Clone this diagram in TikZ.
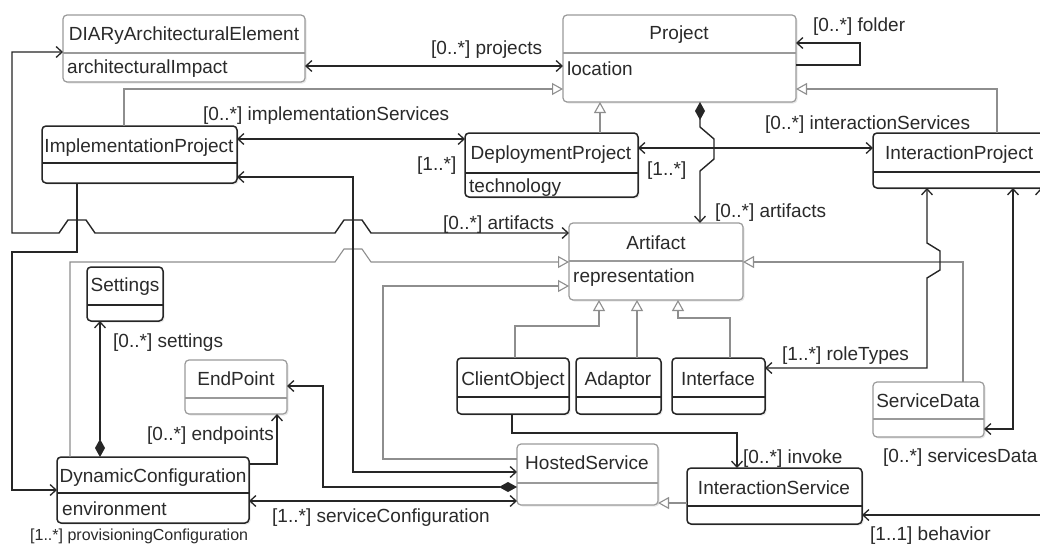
\documentclass[tikz,border=0pt]{standalone}
\usepackage{fontspec}
\setmainfont{Liberation Sans}
\usetikzlibrary{arrows.meta,shadows}

\definecolor{ink}{HTML}{262626}
\definecolor{genline}{HTML}{8E8E8E}
\definecolor{softframe}{HTML}{9A9A9A}
\definecolor{txt}{HTML}{2A2A2A}

\tikzset{
  opentip/.tip={Straight Barb[length=6pt,width=11pt,line width=1.3pt]},
  gentip/.tip={Triangle[open,length=11pt,width=12pt,fill=white,line width=1.1pt]},
  comptip/.tip={Diamond[length=18pt,width=10pt]},
  umlbox/.style={draw=ink, line width=1.5pt, fill=white, rounded corners=4pt,
    inner sep=0pt, outer sep=0pt,
    drop shadow={opacity=0.18, shadow xshift=1.5pt, shadow yshift=-1.5pt}},
  softbox/.style={umlbox, draw=softframe, line width=1.2pt},
  sepline/.style={draw=ink, line width=1.2pt},
  softsep/.style={draw=softframe, line width=1.1pt},
  title/.style={text=txt, inner sep=0pt, anchor=base, font=\fontsize{19}{22}\selectfont},
  attr/.style={text=txt, inner sep=0pt, anchor=base west, font=\fontsize{19}{22}\selectfont},
  lbl/.style={text=txt, inner sep=0pt, anchor=base west, font=\fontsize{19}{22}\selectfont},
  smalllbl/.style={lbl, font=\fontsize{16}{18}\selectfont},
  assoc/.style={draw=ink, line width=1.4pt},
  twoway/.style={assoc, opentip-opentip},
  oneway/.style={assoc, -opentip},
  composite/.style={assoc, comptip-opentip},
  gen/.style={draw=genline, line width=1.1pt, -gentip},
}

% class box: box style, divider style, name, x1, y1, x2, y2, divider y
\newcommand\umlclass[8]{%
  \node[#1, anchor=north west, minimum width={(#6-#4)*1pt},
        minimum height={(#7-#5)*1pt}] (#3) at (#4,#5) {};
  \draw[#2] (#3.west |- 0,#8) -- (#3.east |- 0,#8);
}

\begin{document}
\begin{tikzpicture}[x=1pt,y=-1pt]
\useasboundingbox (0,0) rectangle (1040,543);
\clip (0,0) rectangle (1040,543);
\fill[white] (0,0) rectangle (1040,543);

% ---------- classes ----------
\umlclass{softbox}{softsep}{diary}{63}{15}{305}{82}{53}
\umlclass{softbox}{softsep}{project}{563}{15}{796}{102}{53}
\umlclass{umlbox}{sepline}{implproj}{42}{126}{237}{183}{163}
\umlclass{umlbox}{sepline}{deploy}{465}{133}{638}{197}{173}
\umlclass{umlbox}{sepline}{interproj}{873}{133}{1050}{188}{172}
\umlclass{softbox}{softsep}{artifact}{569}{223}{743}{300}{261}
\umlclass{umlbox}{sepline}{settings}{87}{267}{163}{321}{305}
\umlclass{softbox}{softsep}{endpoint}{185}{360}{287}{414}{398}
\umlclass{umlbox}{sepline}{client}{457}{358}{569}{414}{397}
\umlclass{umlbox}{sepline}{adaptor}{576}{358}{661}{414}{397}
\umlclass{umlbox}{sepline}{iface}{672}{358}{765}{414}{397}
\umlclass{softbox}{softsep}{servicedata}{873}{382}{984}{437}{419}
\umlclass{softbox}{softsep}{hosted}{517}{444}{658}{505}{483}
\umlclass{umlbox}{sepline}{dynconf}{57}{457}{249}{523}{493}
\umlclass{umlbox}{sepline}{interserv}{687}{468}{862}{524}{506}

% class names and attributes
\node[title] (diaryT) at (184,41) {DIARyArchitecturalElement};
\node[attr] (diaryA) at (67,74) {architecturalImpact};
\node[title] (projectT) at (679,40) {Project};
\node[attr] (projectA) at (567,75) {location};
\node[title] (implprojT) at (139,152) {ImplementationProject};
\node[title] (deployT) at (551,159) {DeploymentProject};
\node[attr] (deployA) at (469,192) {technology};
\node[attr] (interprojT) at (885,159) {InteractionProject};
\node[title] (artifactT) at (656,249) {Artifact};
\node[attr] (artifactA) at (573,282) {representation};
\node[title] (settingsT) at (125,291) {Settings};
\node[title] (endpointT) at (236,385) {EndPoint};
\node[title] (clientT) at (513,385) {ClientObject};
\node[title] (adaptorT) at (618,385) {Adaptor};
\node[title] (ifaceT) at (718,385) {Interface};
\node[title] (servicedataT) at (928,407) {ServiceData};
\node[title] (hostedT) at (587,469) {HostedService};
\node[title] (dynconfT) at (153,482) {DynamicConfiguration};
\node[attr] (dynconfA) at (62,515) {environment};
\node[title] (interservT) at (774,494) {InteractionService};

% ---------- generalizations ----------
\draw[gen] (implproj.north -| 124,0) -- (124,89) -- (project.west |- 0,89);
\draw[gen] (deploy.north -| 600,0) -- (project.south -| 600,0);
\draw[gen] (interproj.north -| 997,0) -- (997,89) -- (project.east |- 0,89);
\draw[gen] (dynconf.north -| 70,0) -- (70,262) -- (335,262) -- (344,249)
  -- (362,249) -- (371,262) -- (artifact.west |- 0,262);
\draw[gen] (hosted.west |- 0,459) -- (383,459) -- (383,286) -- (artifact.west |- 0,286);
\draw[gen] (client.north -| 515,0) -- (515,326) -- (599,326) -- (artifact.south -| 599,0);
\draw[gen] (adaptor.north -| 637,0) -- (artifact.south -| 637,0);
\draw[gen] (iface.north -| 730,0) -- (730,318) -- (678,318) -- (artifact.south -| 678,0);
\draw[gen] (servicedata.north -| 963,0) -- (963,262) -- (artifact.east |- 0,262);
\draw[gen] (interserv.west |- 0,503) -- (hosted.east |- 0,503);

% ---------- associations ----------
\draw[twoway] (diary.east |- 0,66) -- (project.west |- 0,66);
\draw[oneway] (project.east |- 0,65) -- (860,65) -- (860,43) -- (project.east |- 0,43);
\draw[twoway] (diary.west |- 0,52) -- (12,52) -- (12,233)
  -- (59,233) -- (68,220) -- (86,220) -- (95,233)
  -- (335,233) -- (344,220) -- (362,220) -- (371,233)
  -- (artifact.west |- 0,233);
\draw[twoway] (implproj.east |- 0,139) -- (deploy.west |- 0,139);
\draw[twoway] (implproj.east |- 0,177) -- (353,177) -- (353,472) -- (hosted.west |- 0,472);
\draw[oneway] (implproj.south -| 77,0) -- (77,252) -- (12,252) -- (12,490)
  -- (dynconf.west |- 0,490);
\draw[twoway] (deploy.east |- 0,148) -- (interproj.west |- 0,148);
\draw[composite] (project.south -| 700,0) -- (700,127) -- (714,139) -- (714,159)
  -- (700,171) -- (artifact.north -| 700,0);
\draw[composite] (dynconf.north -| 100,0) -- (settings.south -| 100,0);
\draw[oneway] (dynconf.east |- 0,464) -- (277,464) -- (endpoint.south -| 277,0);
\draw[composite] (hosted.west |- 0,487) -- (323,487) -- (323,386) -- (endpoint.east |- 0,386);
\draw[twoway] (dynconf.east |- 0,501) -- (hosted.west |- 0,501);
\draw[oneway, line width=1.2pt] (client.south -| 512,0) -- (512,433) -- (737,433)
  -- (interserv.north -| 737,0);
\draw[twoway] (interproj.south -| 927,0) -- (927,243) -- (940,251) -- (940,270)
  -- (927,278) -- (927,368) -- (iface.east |- 0,368);
\draw[twoway] (interproj.south -| 1013,0) -- (1013,429) -- (servicedata.east |- 0,429);
\draw[twoway] (interproj.south -| 1041,0) -- (1041,515) -- (interserv.east |- 0,515);

% ---------- role labels ----------
\node[lbl] (lprojects) at (431,55) {[0..*] projects};
\node[lbl] (lfolder) at (813,32) {[0..*] folder};
\node[lbl] (limpl) at (203,120) {[0..*] implementationServices};
\node[lbl] (linter) at (765,129) {[0..*] interactionServices};
\node[lbl] (ldepleft) at (417,170) {[1..*]};
\node[lbl] (ldepright) at (647,175) {[1..*]};
\node[lbl] (lartleft) at (443,229) {[0..*] artifacts};
\node[lbl] (lartright) at (715,217) {[0..*] artifacts};
\node[lbl] (lsettings) at (113,347) {[0..*] settings};
\node[lbl] (lroles) at (782,360) {[1..*] roleTypes};
\node[lbl] (lendpoints) at (147,440) {[0..*] endpoints};
\node[lbl] (linvoke) at (743,463) {[0..*] invoke};
\node[lbl] (lsdata) at (883,462) {[0..*] servicesData};
\node[lbl] (lsconf) at (272,522) {[1..*] serviceConfiguration};
\node[smalllbl] (lprov) at (30,540) {[1..*] provisioningConfiguration};
\node[lbl] (lbehavior) at (870,540) {[1..1] behavior};
\end{tikzpicture}
\end{document}
